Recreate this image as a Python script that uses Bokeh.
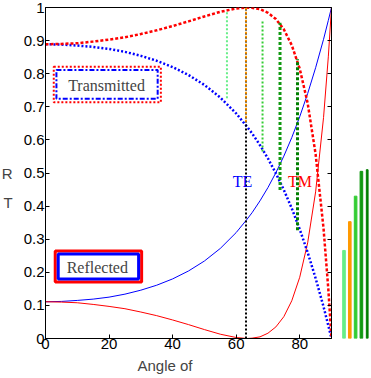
from bokeh.plotting import figure
from bokeh.layouts import row
from bokeh.models import (Range1d, LinearAxis, FixedTicker, BoxAnnotation, Label, Title)
from bokeh.core.properties import value
from bokeh.embed import file_html
from bokeh.resources import INLINE

# ---- data ----
angle = [0, 5, 10, 15, 20, 25, 30, 35, 40, 45, 50, 55, 60, 63.4, 65, 67.5, 70, 72.5,
         75, 77.5, 80, 82.5, 85, 87.5, 89, 90]
R_TE = [0.111, 0.112, 0.115, 0.119, 0.125, 0.134, 0.146, 0.161, 0.180, 0.204, 0.234, 0.272,
        0.320, 0.360, 0.380, 0.416, 0.456, 0.501, 0.551, 0.607, 0.670, 0.740, 0.818, 0.904,
        0.961, 1.0]
R_TM = [0.111, 0.110, 0.108, 0.103, 0.097, 0.090, 0.080, 0.069, 0.056, 0.042, 0.027, 0.013,
        0.003, 0.0, 0.001, 0.005, 0.016, 0.035, 0.066, 0.114, 0.185, 0.289, 0.443, 0.668,
        0.851, 1.0]
T_TE = [0.889, 0.888, 0.885, 0.881, 0.875, 0.866, 0.854, 0.839, 0.820, 0.796, 0.766, 0.728,
        0.680, 0.640, 0.620, 0.584, 0.544, 0.499, 0.449, 0.393, 0.330, 0.260, 0.182, 0.096,
        0.039, 0.0]
T_TM = [0.889, 0.890, 0.892, 0.897, 0.903, 0.910, 0.920, 0.931, 0.944, 0.958, 0.973, 0.987,
        0.997, 1.0, 0.999, 0.995, 0.984, 0.965, 0.934, 0.886, 0.815, 0.711, 0.557, 0.332,
        0.149, 0.0]

brewster_angle = [63.1]
brewster_bottom = [0.0]
brewster_top = [1.0]

marker_angle = [57.1, 63.1, 68.3, 73.8, 79.3]
marker_top = [0.987, 1.0, 0.962, 0.954, 0.844]
marker_bottom = [0.726, 0.649, 0.565, 0.449, 0.327]
marker_colors = ["#66ee88", "#ff9900", "#33cc33", "#119911", "#007f00"]
marker_widths = [2, 2, 2, 3, 3]
marker_dash = ["2 2", "2 2", "2 2", "3 2", "3 2"]

bar_index = [1, 2, 3, 4, 5]
bar_height = [0.266, 0.353, 0.430, 0.505, 0.510]

x_ticks = [0, 20, 40, 60, 80]
y_ticks = [0, 0.1, 0.2, 0.3, 0.4, 0.5, 0.6, 0.7, 0.8, 0.9, 1]
y_tick_labels = ["0", "0.1", "0.2", "0.3", "0.4", "0.5", "0.6", "0.7", "0.8", "0.9", "1"]

SANS = "Liberation Sans"
SERIF = "Liberation Serif"

p = figure(width=339, height=377, x_range=Range1d(0, 90), y_range=Range1d(0, 1),
           output_backend="svg", toolbar_location=None,
           min_border_left=44, min_border_right=6, min_border_top=8, min_border_bottom=38)
p.grid.visible = False
p.outline_line_color = "black"
p.background_fill_color = "white"
p.border_fill_color = "white"

# axes
p.xaxis.ticker = FixedTicker(ticks=x_ticks)
p.yaxis.ticker = FixedTicker(ticks=y_ticks)
p.yaxis.major_label_overrides = {t: l for t, l in zip(y_ticks, y_tick_labels)}
for ax in (p.xaxis, p.yaxis):
    ax.major_tick_in = 4
    ax.major_tick_out = 0
    ax.minor_tick_line_color = None
    ax.major_label_text_font = SANS
    ax.major_label_text_font_size = "15px"
    ax.major_label_text_color = "black"
    ax.axis_line_color = "black"
p.yaxis.major_label_standoff = 1
p.xaxis.major_label_standoff = 0
p.yaxis.axis_label = "\nR\nT"
p.yaxis.axis_label_orientation = "horizontal"
p.yaxis.axis_label_text_font = SANS
p.yaxis.axis_label_text_font_size = "15px"
p.yaxis.axis_label_text_font_style = "normal"
p.yaxis.axis_label_text_line_height = 1.75
p.yaxis.axis_label_standoff = 8

rax = LinearAxis(ticker=FixedTicker(ticks=y_ticks), major_tick_in=4, major_tick_out=0,
                 minor_tick_line_color=None, major_label_standoff=0,
                 major_label_overrides={t: "" for t in y_ticks})
p.add_layout(rax, "right")

p.add_layout(Title(text="Angle of", align="left", offset=92, text_font=SANS,
                   text_font_size="15px", text_font_style="normal", standoff=6), "below")

# legend-like boxes
p.add_layout(BoxAnnotation(left=2.6, right=36.3, top=0.821, bottom=0.714,
                           fill_color="white", fill_alpha=1, line_color="red",
                           line_alpha=1, line_width=2, line_dash="2 2"))
p.add_layout(BoxAnnotation(left=3.44, right=35.3, top=0.811, bottom=0.724,
                           fill_alpha=0, line_color="blue", line_alpha=1, line_width=2,
                           line_dash="5 2 2 2"))
p.add_layout(Label(x=19.2, y=0.765, text="Transmitted", text_font=SERIF,
                   text_font_size="16px", text_align="center", text_baseline="middle"))

p.add_layout(BoxAnnotation(left=3.06, right=30.25, top=0.264, bottom=0.171,
                           fill_color="white", fill_alpha=1, line_color="red",
                           line_alpha=1, line_width=3))
p.add_layout(BoxAnnotation(left=4.0, right=29.3, top=0.255, bottom=0.180,
                           fill_alpha=0, line_color="blue", line_alpha=1, line_width=3))
p.add_layout(Label(x=16.3, y=0.2145, text="Reflected", text_font=SERIF,
                   text_font_size="16px", text_align="center", text_baseline="middle"))

# curves
p.line(angle, R_TE, line_color="blue", line_width=1)
p.line(angle, R_TM, line_color="red", line_width=1)
p.line(angle, T_TE, line_color="blue", line_width=2.5, line_dash="2 2")
p.line(angle, T_TM, line_color="red", line_width=2.5, line_dash="3 2")

# vertical markers
p.segment(x0=brewster_angle, y0=brewster_bottom, x1=brewster_angle, y1=brewster_top,
          line_color="black", line_width=2, line_dash="2 2")
for a, t, b, c, w, d in zip(marker_angle, marker_top, marker_bottom, marker_colors,
                            marker_widths, marker_dash):
    off = 2 if c == "#ff9900" else 0
    p.segment(x0=[a], y0=[b], x1=[a], y1=[t], line_color=c, line_width=w,
              line_dash=d, line_dash_offset=off)

p.text(x=[62.0], y=[0.474], text=["TE"], text_color="blue", text_font=value(SERIF),
       text_font_size="16px", text_align="center", text_baseline="middle")
p.text(x=[80.1], y=[0.474], text=["TM"], text_color="red", text_font=value(SERIF),
       text_font_size="16px", text_align="center", text_baseline="middle")

# side bars
q = figure(width=32, height=377, x_range=Range1d(-0.12, 5.395), y_range=Range1d(0, 1),
           output_backend="svg", toolbar_location=None, x_axis_location=None,
           y_axis_location=None, min_border_left=0, min_border_right=0,
           min_border_top=8, min_border_bottom=38)
q.grid.visible = False
q.outline_line_color = None
q.border_fill_color = "white"
q.vbar(x=bar_index, top=bar_height, bottom=0, width=[0.45, 0.45, 0.45, 0.45, 0.3],
       color=marker_colors)

layout = row(p, q, margin=(-1, -4, -4, -2))
open("out.html", "w").write(file_html(layout, INLINE))
